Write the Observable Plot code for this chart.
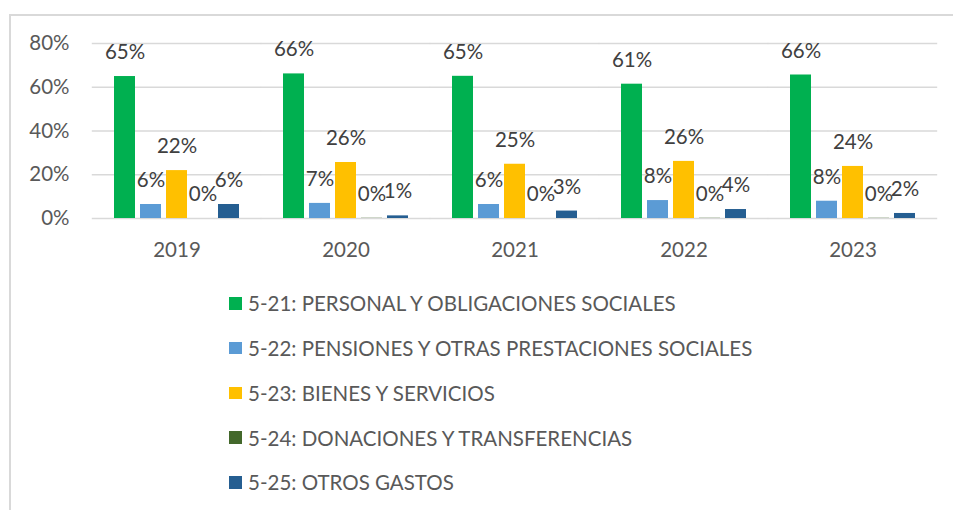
<!DOCTYPE html>
<html><head><meta charset="utf-8">
<script src="https://cdn.jsdelivr.net/npm/d3@7"></script>
<script src="https://cdn.jsdelivr.net/npm/@observablehq/plot@0.6"></script>
<style>
body{margin:0;background:#fff;width:953px;height:510px;overflow:hidden;position:relative;font-family:Lato,"Noto Sans",sans-serif;}
#frame{position:absolute;left:9px;top:14px;width:1000px;height:600px;border:2px solid #d9d9d9;box-sizing:border-box}
#chart{position:absolute;left:0;top:0}
#legend{position:absolute;left:229px;top:280.9px}
.item{height:44.75px;display:flex;align-items:center;font-size:20.5px;color:#595959;white-space:nowrap}
.sw{width:12.5px;height:12.5px;margin-right:6.5px;flex:none}
</style></head><body>
<div id="frame"></div><div id="chart"></div><div id="legend"></div>
<script>
const years = ["2019","2020","2021","2022","2023"];
const series = [
  "5-21: PERSONAL Y OBLIGACIONES SOCIALES",
  "5-22: PENSIONES Y OTRAS PRESTACIONES SOCIALES",
  "5-23: BIENES Y SERVICIOS",
  "5-24: DONACIONES Y TRANSFERENCIAS",
  "5-25: OTROS GASTOS"
];
const colors = ["#00B050","#5B9BD5","#FFC000","#43682B","#255E91"];
const personal   = [64.9, 66.1, 65.0, 61.4, 65.6];
const pensiones  = [6.4, 6.9, 6.4, 8.2, 7.9];
const bienes     = [21.9, 25.6, 24.8, 26.1, 23.8];
const donaciones = [0, 0.1, 0, 0.1, 0.1];
const otros      = [6.4, 1.2, 3.4, 4.1, 2.3];
const yTicks = [0, 20, 40, 60, 80];

const bySeries = [personal, pensiones, bienes, donaciones, otros];
const data = years.flatMap((y, i) => series.map((s, j) => ({year: y, series: s, value: bySeries[j][i]})));

const chart = Plot.plot({
  width: 953, height: 270,
  marginLeft: 91, marginRight: 15, marginTop: 43, marginBottom: 52,
  style: {fontFamily: "Lato, 'Noto Sans', sans-serif", fontSize: "20.5px", color: "#595959", background: "transparent", overflow: "visible"},
  fx: {domain: years, paddingInner: 0.262, paddingOuter: 0.131, label: null, tickSize: 0, tickPadding: 24, axis: "bottom"},
  x: {domain: series, paddingInner: 0.21, paddingOuter: 0, axis: null},
  y: {domain: [0, 80], ticks: yTicks, tickFormat: d => d + "%", tickSize: 0, tickPadding: 45, label: null},
  color: {domain: series, range: colors},
  marks: [
    Plot.ruleY(yTicks, {stroke: "#d9d9d9", strokeWidth: 1.6, insetLeft: -22.2, insetRight: -22.2}),
    Plot.barY(data, {fx: "year", x: "series", y: "value", fill: "series"}),
    Plot.text(data, {fx: "year", x: "series", y: "value", text: d => Math.round(d.value) + "%", dy: -24, fill: "#404040", fontSize: 20.5})
  ]
});
document.getElementById("chart").appendChild(chart);

const legend = document.getElementById("legend");
series.forEach((s, j) => {
  const item = document.createElement("div");
  item.className = "item";
  const sw = document.createElement("span");
  sw.className = "sw";
  sw.style.background = colors[j];
  const t = document.createElement("span");
  t.textContent = s;
  item.appendChild(sw); item.appendChild(t);
  legend.appendChild(item);
});
</script>
</body></html>
